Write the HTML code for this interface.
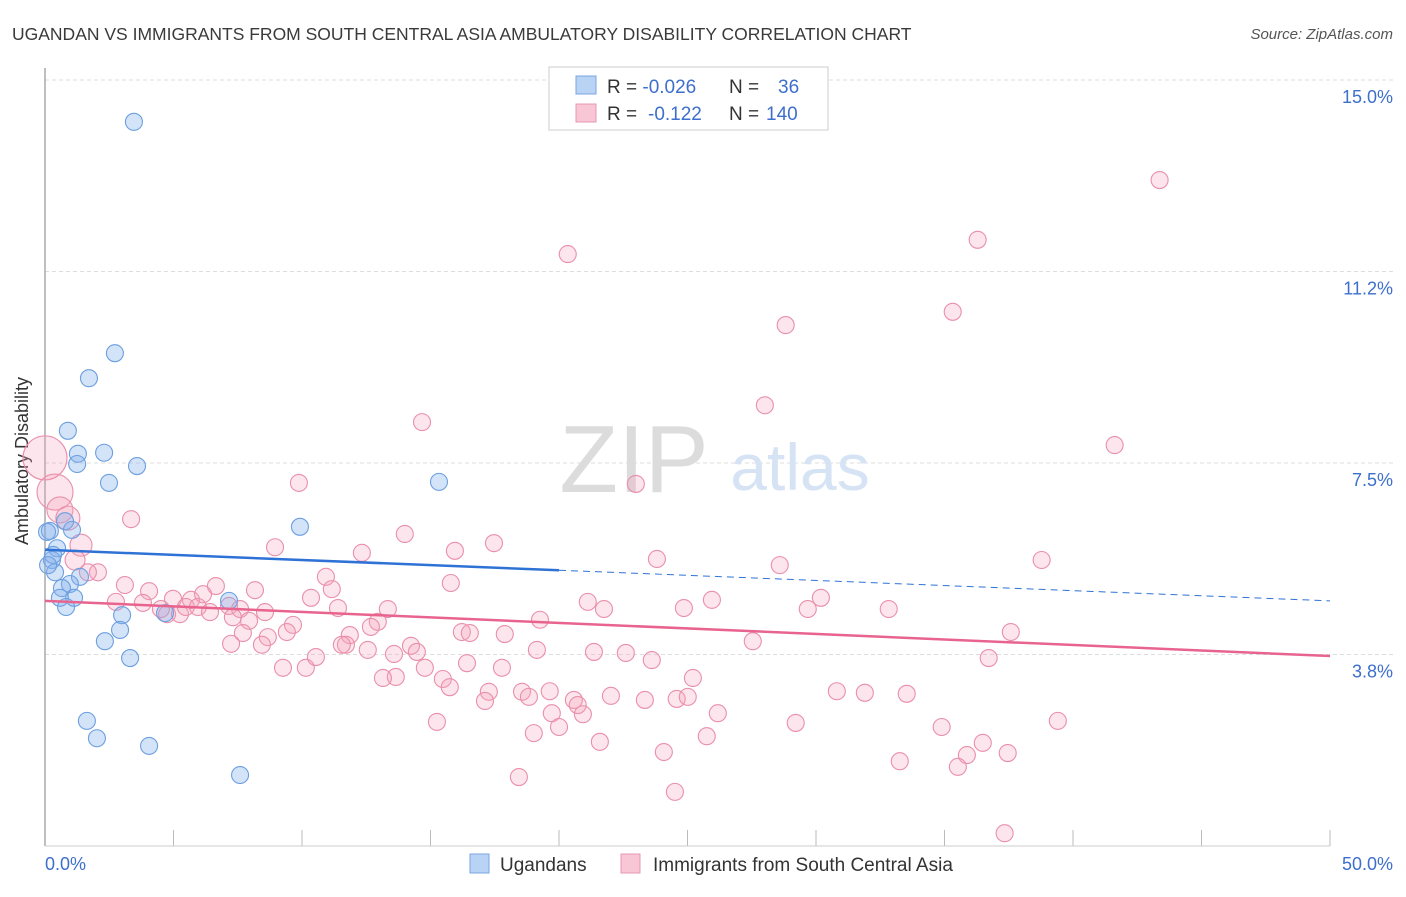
<!DOCTYPE html>
<html><head><meta charset="utf-8"><style>
body{margin:0;background:#fff;font-family:"Liberation Sans",sans-serif}
svg text{font-family:"Liberation Sans",sans-serif}
</style></head><body>
<svg width="1406" height="892" viewBox="0 0 1406 892">
<text x="12" y="40" font-size="17.5" fill="#3a3a3a">UGANDAN VS IMMIGRANTS FROM SOUTH CENTRAL ASIA AMBULATORY DISABILITY CORRELATION CHART</text>
<text x="1393" y="39" font-size="15" fill="#555" font-style="italic" text-anchor="end">Source: ZipAtlas.com</text>
<g id="grid"></g>
<g>
<text x="634" y="492" font-size="96" font-family="Liberation Serif" fill="#dcdcdc" text-anchor="middle">ZIP</text>
<text x="800" y="490" font-size="66" fill="#d6e3f5" text-anchor="middle">atlas</text>
</g>
<line x1="45" y1="68" x2="45" y2="846" stroke="#aaa" stroke-width="1.5"/>
<line x1="45" y1="846" x2="1330" y2="846" stroke="#ccc"/>
<text x="22" y="455" font-size="18" fill="#333" transform="rotate(-90 28 455)" text-anchor="middle">Ambulatory Disability</text>
<text x="45" y="870" font-size="18" fill="#3d6fcc">0.0%</text>
<text x="1393" y="870" font-size="18" fill="#3d6fcc" text-anchor="end">50.0%</text>
<g id="pts"></g>
<g id="trends"></g>
<g>
<rect x="549" y="67" width="279" height="63" fill="#fff" stroke="#ccc"/>
<rect x="576" y="76" width="20" height="18" fill="#b9d3f5" stroke="#7aa6e0"/>
<rect x="576" y="104" width="20" height="18" fill="#f9c6d5" stroke="#e897b0"/>
<text x="607" y="93" font-size="19" fill="#333">R = <tspan fill="#3d6fcc">-0.026</tspan><tspan x="729">N = </tspan><tspan x="778" fill="#3d6fcc">36</tspan></text>
<text x="607" y="120" font-size="19" fill="#333">R = <tspan x="648" fill="#3d6fcc">-0.122</tspan><tspan x="729">N = </tspan><tspan x="766" fill="#3d6fcc">140</tspan></text>
</g>
<g>
<rect x="470" y="854" width="19" height="19" fill="#b9d3f5" stroke="#7aa6e0"/>
<text x="500" y="871" font-size="19" fill="#333">Ugandans</text>
<rect x="621" y="854" width="19" height="19" fill="#f9c6d5" stroke="#e897b0"/>
<text x="653" y="871" font-size="19" fill="#333">Immigrants from South Central Asia</text>
</g>
</svg>
<script>
const yTicks=[3.75,7.5,11.25,15];
const yTickLabels=["3.8%","7.5%","11.2%","15.0%"];
const xTicks=[0,5,10,15,20,25,30,35,40,45,50];
const blueX=[3.46,2.72,1.71,0.89,1.28,2.30,1.25,3.58,2.49,15.33,9.92,0.78,1.05,0.19,0.47,0.27,0.39,1.36,0.97,0.66,1.13,0.58,0.82,7.16,4.67,3.00,2.92,2.33,3.31,1.63,2.02,4.05,7.59,0.08,0.31,0.12];
const blueY=[14.18,9.65,9.16,8.13,7.68,7.70,7.48,7.44,7.11,7.13,6.25,6.36,6.19,6.17,5.83,5.60,5.36,5.27,5.13,5.05,4.86,4.86,4.68,4.80,4.56,4.52,4.23,4.01,3.68,2.45,2.11,1.96,1.39,6.15,5.70,5.50];
const pinkX=[43.37,36.29,20.34,28.82,35.32,28.01,14.67,41.62,9.88,22.99,3.35,14.00,17.47,8.95,15.95,12.33,23.81,38.78,28.59,10.93,15.79,2.06,1.67,3.11,6.65,8.17,4.05,11.16,21.12,21.75,25.95,24.86,30.19,29.68,32.83,4.98,5.68,6.15,3.81,2.76,4.75,5.25,4.51,5.48,5.95,6.42,7.16,7.59,8.56,10.35,11.40,13.34,12.95,12.68,19.26,16.22,16.53,17.89,11.86,11.71,7.31,7.94,9.65,9.41,8.67,7.70,7.24,8.44,9.26,10.15,10.54,11.55,12.56,13.58,14.24,14.47,14.78,13.65,13.15,15.48,16.42,17.78,19.14,21.36,22.60,23.61,27.54,37.58,36.72,15.75,17.27,17.12,18.56,18.83,19.64,20.58,22.02,23.34,24.58,25.01,25.21,30.81,31.90,33.53,20.73,20.93,19.72,26.18,15.25,19.02,20.00,21.59,25.75,29.21,34.89,39.41,24.08,35.87,36.49,37.46,33.26,35.52,18.44,24.51,37.34,0.00,0.39,0.58,0.89,1.40,1.17];
const pinkY=[13.04,11.87,11.59,10.20,10.46,8.63,8.30,7.85,7.11,7.09,6.40,6.11,5.93,5.85,5.78,5.74,5.62,5.60,5.50,5.27,5.15,5.36,5.36,5.11,5.09,5.01,4.99,5.03,4.78,4.64,4.82,4.66,4.86,4.64,4.64,4.84,4.82,4.93,4.76,4.78,4.54,4.54,4.64,4.68,4.68,4.58,4.70,4.64,4.58,4.86,4.66,4.64,4.39,4.29,4.43,4.19,4.17,4.15,4.13,3.94,4.48,4.41,4.33,4.19,4.09,4.17,3.96,3.94,3.49,3.49,3.70,3.94,3.84,3.76,3.92,3.80,3.49,3.31,3.29,3.27,3.58,3.49,3.84,3.80,3.78,3.64,4.01,4.19,3.68,3.11,3.02,2.84,3.02,2.92,3.03,2.86,2.94,2.86,2.88,2.92,3.29,3.03,3.00,2.98,2.76,2.58,2.60,2.60,2.43,2.21,2.33,2.04,2.15,2.41,2.33,2.45,1.84,1.78,2.02,1.82,1.66,1.55,1.35,1.06,0.25,7.60,6.93,6.58,6.42,5.89,5.60];
const pinkWeight=[22,18,13,12,11,10]; // bubble weights of the last entries
const blueTrend=[5.80,4.80];
const pinkTrend=[4.80,3.72];
const NS="http://www.w3.org/2000/svg";
const X=v=>45+v*25.7;
const Y=v=>846-v*51.07;
function mk(tag,attrs,parent){const e=document.createElementNS(NS,tag);for(const k in attrs)e.setAttribute(k,attrs[k]);parent.appendChild(e);return e;}
const grid=document.getElementById('grid');
yTicks.forEach((t,i)=>{
 const l=mk('line',{x1:45,x2:1393,y1:Y(t),y2:Y(t),stroke:'#ddd','stroke-dasharray':'4 3'},grid);
 
 
 const tx=mk('text',{x:1393,y:Y(t)+23,'font-size':18,fill:'#3d6fcc','text-anchor':'end'},grid);
 tx.textContent=yTickLabels[i];
 
 
});
xTicks.forEach(t=>{
 const l=mk('line',{x1:X(t),x2:X(t),y1:830,y2:846,stroke:'#bbb'},grid);
 
 
});
const pts=document.getElementById('pts');
const np=pinkX.length, nb=pinkWeight.length;
pinkX.forEach((x,i)=>{
 const r=i>=np-nb?pinkWeight[i-(np-nb)]:8.5;
 const c=mk('circle',{cx:X(x),cy:Y(pinkY[i]),r:r,fill:'rgba(244,160,185,0.28)',stroke:'#ea8fab','stroke-width':1.1},pts);
 
 
});
blueX.forEach((x,i)=>{
 const c=mk('circle',{cx:X(x),cy:Y(blueY[i]),r:8.5,fill:'rgba(130,175,235,0.35)',stroke:'#6c9fe0','stroke-width':1.1},pts);
 
 
});
const tr=document.getElementById('trends');
const by=x=>blueTrend[0]+(blueTrend[1]-blueTrend[0])*x/50;
const py=x=>pinkTrend[0]+(pinkTrend[1]-pinkTrend[0])*x/50;
let l=mk('line',{x1:X(0),y1:Y(by(0)),x2:X(20),y2:Y(by(20)),stroke:'#2f72d6','stroke-width':2.5},tr);


l=mk('line',{x1:X(20),y1:Y(by(20)),x2:X(50),y2:Y(by(50)),stroke:'#2f72d6','stroke-width':1,'stroke-dasharray':'7 5'},tr);


l=mk('line',{x1:X(0),y1:Y(py(0)),x2:X(50),y2:Y(py(50)),stroke:'#e8648f','stroke-width':2.5},tr);


</script>
</body></html>
